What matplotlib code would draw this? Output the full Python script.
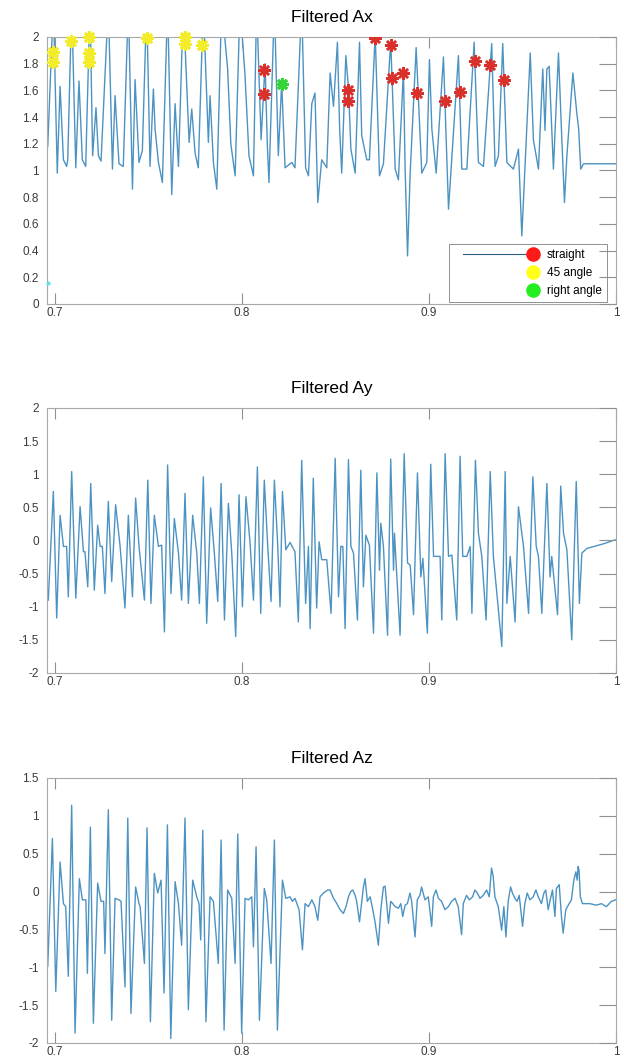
import numpy as np
import matplotlib
matplotlib.use("Agg")
import matplotlib.pyplot as plt
from matplotlib.lines import Line2D
from matplotlib.legend_handler import HandlerBase

plt.rcParams['font.family'] = ['Liberation Sans', 'DejaVu Sans']

# ---- Filtered Ax (peaks above 2 are cut by the axis) ----
ax_t = [0.6961, 0.6991, 0.7012, 0.7027, 0.7045, 0.7062, 0.7068, 0.7089, 0.7111, 0.7128,
        0.7146, 0.7164, 0.7187, 0.7201, 0.7219, 0.7232, 0.7246, 0.7285, 0.7307, 0.7321,
        0.7342, 0.7365, 0.7392, 0.7414, 0.7428, 0.7449, 0.7467, 0.7490, 0.7508, 0.7526,
        0.7535, 0.7553, 0.7574, 0.7602, 0.7624, 0.7642, 0.7660, 0.7686, 0.7717, 0.7731,
        0.7749, 0.7766, 0.7793, 0.7820, 0.7829, 0.7847, 0.7865, 0.7891, 0.7923, 0.7940,
        0.7963, 0.7989, 0.8016, 0.8037, 0.8061, 0.8078, 0.8102, 0.8123, 0.8135, 0.8144,
        0.8173, 0.8194, 0.8212, 0.8230, 0.8266, 0.8283, 0.8319, 0.8340, 0.8355, 0.8373,
        0.8390, 0.8405, 0.8426, 0.8453, 0.8471, 0.8489, 0.8510, 0.8522, 0.8533, 0.8555,
        0.8569, 0.8582, 0.8605, 0.8628, 0.8640, 0.8667, 0.8681, 0.8712, 0.8735, 0.8756,
        0.8795, 0.8819, 0.8836, 0.8863, 0.8872, 0.8885, 0.8899, 0.8931, 0.8961, 0.8988,
        0.9002, 0.9015, 0.9038, 0.9077, 0.9104, 0.9157, 0.9175, 0.9202, 0.9241, 0.9264,
        0.9291, 0.9335, 0.9353, 0.9371, 0.9394, 0.9416, 0.9451, 0.9478, 0.9496, 0.9541,
        0.9558, 0.9585, 0.9608, 0.9620, 0.9630, 0.9642, 0.9665, 0.9692, 0.9710, 0.9724,
        0.9737, 0.9769, 0.9790, 0.9800, 0.9811, 0.9826, 1.0004]
ax_v = [1.18, 2.25, 0.98, 1.63, 1.08, 1.03, 1.08, 2.25, 1.02, 1.67,
        1.08, 1.03, 2.25, 1.11, 1.47, 1.11, 1.07, 2.25, 1.01, 1.56,
        1.05, 1.03, 2.25, 0.86, 1.68, 1.06, 1.15, 2.25, 1.03, 1.61,
        1.31, 1.06, 0.91, 2.25, 0.82, 1.50, 1.03, 2.25, 1.21, 1.46,
        1.13, 1.02, 2.25, 1.21, 1.56, 1.06, 0.86, 2.25, 1.76, 1.20,
        0.96, 2.25, 1.71, 1.11, 0.96, 2.25, 1.23, 1.80, 1.20, 0.91,
        2.25, 1.11, 1.66, 1.02, 1.06, 1.02, 2.25, 1.02, 0.96, 1.50,
        1.58, 0.76, 1.08, 1.02, 1.73, 1.48, 1.96, 1.31, 0.98, 1.86,
        1.62, 1.16, 0.98, 1.96, 1.26, 1.08, 1.08, 2.02, 0.96, 1.05,
        1.97, 1.01, 0.93, 1.75, 1.01, 0.36, 0.98, 1.92, 0.98, 1.06,
        1.83, 1.31, 0.98, 1.85, 0.71, 1.86, 1.01, 1.01, 1.96, 1.06,
        1.03, 1.95, 1.03, 1.11, 1.95, 1.06, 1.01, 1.16, 0.51, 1.88,
        1.23, 1.01, 1.76, 1.30, 1.76, 1.78, 1.01, 1.88, 1.23, 0.76,
        1.11, 1.73, 1.43, 1.31, 1.01, 1.05, 1.05]

straight_t = [0.8118, 0.8118, 0.8569, 0.8569, 0.8712, 0.8795, 0.8801, 0.8863, 0.8938,
              0.9086, 0.9163, 0.9243, 0.9327, 0.9401]
straight_v = [1.75, 1.57, 1.60, 1.52, 1.99, 1.94, 1.69, 1.73, 1.58,
              1.52, 1.59, 1.82, 1.79, 1.68]
angle45_t = [0.6989, 0.6989, 0.7084, 0.7182, 0.7182, 0.7182, 0.7490, 0.7695, 0.7695, 0.7784]
angle45_v = [1.89, 1.81, 1.97, 2.00, 1.88, 1.81, 1.99, 2.00, 1.95, 1.94]
right_t = [0.8212]
right_v = [1.65]
start_t = [0.6960]
start_v = [0.16]

# ---- Filtered Ay ----
ay_t = [0.6964, 0.6991, 0.7009, 0.7027, 0.7045, 0.7062, 0.7071, 0.7089, 0.7111, 0.7134,
        0.7152, 0.7160, 0.7175, 0.7191, 0.7210, 0.7228, 0.7241, 0.7253, 0.7267, 0.7285,
        0.7303, 0.7324, 0.7348, 0.7374, 0.7392, 0.7414, 0.7431, 0.7449, 0.7478, 0.7496,
        0.7513, 0.7531, 0.7553, 0.7570, 0.7585, 0.7602, 0.7620, 0.7638, 0.7660, 0.7677,
        0.7695, 0.7713, 0.7736, 0.7758, 0.7772, 0.7793, 0.7811, 0.7832, 0.7852, 0.7870,
        0.7888, 0.7906, 0.7927, 0.7945, 0.7966, 0.7984, 0.8002, 0.8021, 0.8043, 0.8061,
        0.8082, 0.8100, 0.8119, 0.8137, 0.8155, 0.8173, 0.8191, 0.8203, 0.8216, 0.8234,
        0.8257, 0.8283, 0.8301, 0.8319, 0.8340, 0.8355, 0.8364, 0.8381, 0.8399, 0.8412,
        0.8426, 0.8453, 0.8476, 0.8498, 0.8516, 0.8528, 0.8539, 0.8551, 0.8569, 0.8582,
        0.8596, 0.8617, 0.8635, 0.8649, 0.8662, 0.8681, 0.8703, 0.8721, 0.8735, 0.8742,
        0.8756, 0.8778, 0.8795, 0.8810, 0.8815, 0.8845, 0.8867, 0.8885, 0.8899, 0.8917,
        0.8938, 0.8956, 0.8967, 0.8991, 0.9009, 0.9024, 0.9059, 0.9068, 0.9086, 0.9104,
        0.9122, 0.9148, 0.9166, 0.9180, 0.9202, 0.9220, 0.9229, 0.9248, 0.9264, 0.9282,
        0.9305, 0.9327, 0.9344, 0.9389, 0.9407, 0.9416, 0.9434, 0.9460, 0.9478, 0.9496,
        0.9505, 0.9532, 0.9555, 0.9573, 0.9585, 0.9603, 0.9630, 0.9647, 0.9656, 0.9687,
        0.9704, 0.9719, 0.9737, 0.9763, 0.9787, 0.9804, 0.9817, 0.9844, 0.9933, 0.9995]
ay_v = [-0.90, 0.74, -1.17, 0.38, -0.09, -0.09, -0.85, 1.04, -0.87, 0.51,
        -0.17, -0.17, -0.70, 0.86, -0.75, 0.23, -0.09, -0.09, -0.80, 0.59,
        -0.62, 0.54, -0.09, -1.02, 0.38, -0.85, 0.64, -0.09, -0.90, 0.91,
        -0.95, 0.38, -0.09, -0.07, -1.38, 1.14, -0.80, 0.33, -0.19, -0.90,
        0.71, -0.95, 0.38, -0.19, -0.95, 0.96, -1.25, 0.49, -0.19, -0.92,
        0.86, -1.20, 0.56, -0.19, -1.45, 0.69, -1.00, 0.66, -0.04, -0.90,
        1.11, -1.10, 0.91, -0.07, -0.92, 0.91, -0.09, -1.00, 0.74, -0.14,
        -0.03, -0.17, -1.23, 1.21, -0.95, -0.09, -1.33, 0.94, -1.02, -0.02,
        -0.29, -0.29, -1.10, 1.24, -0.85, -0.09, -0.09, -1.33, 1.22, -0.09,
        -0.19, -1.20, 1.06, -0.70, 0.08, -0.07, -1.40, 1.02, -0.45, 0.26,
        -0.09, -1.43, 1.23, -0.45, 0.11, -1.43, 1.31, -0.34, -0.37, -1.12,
        1.02, -0.55, -0.27, -1.40, 1.15, -0.24, -0.24, -1.20, 1.31, -0.24,
        -0.22, -1.20, 1.27, -0.24, -0.24, -0.09, -1.10, 1.21, 0.11, -0.24,
        -1.20, 1.04, -0.24, -1.60, 1.04, -0.95, -0.24, -1.23, 0.51, 0.11,
        -0.09, -1.10, 0.96, -0.09, -0.24, -1.10, 0.86, -0.55, -0.24, -1.12,
        0.82, 0.11, -0.14, -1.50, 0.89, -0.95, -0.19, -0.12, -0.05, 0.01]

# ---- Filtered Az ----
az_t = [0.6961, 0.6986, 0.7004, 0.7027, 0.7045, 0.7057, 0.7071, 0.7089, 0.7107, 0.7130,
        0.7146, 0.7165, 0.7173, 0.7189, 0.7205, 0.7228, 0.7246, 0.7260, 0.7267, 0.7285,
        0.7303, 0.7321, 0.7342, 0.7353, 0.7374, 0.7389, 0.7406, 0.7431, 0.7449, 0.7455,
        0.7478, 0.7492, 0.7510, 0.7531, 0.7549, 0.7567, 0.7583, 0.7601, 0.7619, 0.7642,
        0.7660, 0.7677, 0.7695, 0.7713, 0.7736, 0.7758, 0.7770, 0.7779, 0.7790, 0.7807,
        0.7829, 0.7847, 0.7873, 0.7888, 0.7904, 0.7923, 0.7945, 0.7963, 0.7977, 0.7998,
        0.8016, 0.8034, 0.8052, 0.8061, 0.8075, 0.8093, 0.8119, 0.8132, 0.8155, 0.8173,
        0.8189, 0.8216, 0.8234, 0.8257, 0.8269, 0.8283, 0.8305, 0.8323, 0.8337, 0.8355,
        0.8373, 0.8390, 0.8405, 0.8417, 0.8435, 0.8458, 0.8471, 0.8489, 0.8507, 0.8524,
        0.8542, 0.8556, 0.8569, 0.8581, 0.8592, 0.8605, 0.8613, 0.8628, 0.8640, 0.8649,
        0.8658, 0.8670, 0.8685, 0.8699, 0.8711, 0.8729, 0.8742, 0.8756, 0.8765, 0.8783,
        0.8795, 0.8806, 0.8818, 0.8836, 0.8849, 0.8859, 0.8872, 0.8884, 0.8898, 0.8907,
        0.8925, 0.8937, 0.8951, 0.8960, 0.8978, 0.8996, 0.9014, 0.9023, 0.9037, 0.9050,
        0.9067, 0.9085, 0.9103, 0.9121, 0.9139, 0.9156, 0.9174, 0.9183, 0.9201, 0.9215,
        0.9233, 0.9245, 0.9258, 0.9272, 0.9290, 0.9308, 0.9322, 0.9334, 0.9343, 0.9352,
        0.9370, 0.9388, 0.9400, 0.9411, 0.9423, 0.9436, 0.9446, 0.9459, 0.9471, 0.9482,
        0.9500, 0.9512, 0.9525, 0.9539, 0.9557, 0.9571, 0.9584, 0.9601, 0.9614, 0.9624,
        0.9637, 0.9646, 0.9660, 0.9673, 0.9681, 0.9696, 0.9708, 0.9717, 0.9731, 0.9749,
        0.9761, 0.9774, 0.9785, 0.9792, 0.9797, 0.9802, 0.9809, 0.9820, 0.9859, 0.9895,
        0.9922, 0.9948, 0.9975, 0.9998]
az_v = [-0.99, 0.70, -1.32, 0.39, -0.16, -0.20, -1.12, 1.14, -1.87, 0.17,
        -0.11, -0.11, -1.08, 0.85, -1.74, 0.11, -0.13, -0.13, -0.82, 1.08,
        -1.70, -0.09, -0.11, -0.13, -1.26, 0.97, -1.61, 0.06, -0.16, -0.20,
        -0.95, 0.84, -1.72, 0.24, -0.02, 0.15, -1.34, 0.88, -1.94, 0.13,
        -0.16, -0.71, 0.97, -1.56, 0.15, -0.07, -0.16, -0.64, 0.81, -1.72,
        -0.07, -0.13, -0.95, 0.68, -1.83, 0.02, -0.09, -0.95, 0.76, -1.87,
        -0.09, -0.11, -0.07, -0.73, 0.59, -1.70, 0.04, -0.11, -0.95, 0.68,
        -1.83, 0.15, -0.09, -0.07, -0.13, -0.09, -0.24, -0.77, -0.16, -0.20,
        -0.11, -0.20, -0.38, -0.07, -0.02, 0.02, 0.02, -0.09, -0.16, -0.24,
        -0.29, -0.20, -0.07, 0.00, 0.02, -0.05, -0.13, -0.40, -0.13, 0.06,
        0.17, -0.13, -0.07, -0.24, -0.40, -0.71, -0.24, 0.06, 0.07, -0.42,
        -0.13, -0.16, -0.20, -0.22, -0.16, -0.33, -0.18, -0.16, -0.02, -0.13,
        -0.60, -0.11, -0.05, 0.06, -0.11, -0.07, -0.46, -0.07, 0.02, -0.09,
        -0.13, -0.24, -0.20, -0.13, -0.09, -0.20, -0.57, -0.16, -0.05, -0.11,
        -0.07, 0.02, -0.02, -0.09, -0.05, 0.02, -0.07, 0.31, 0.20, -0.07,
        -0.20, -0.51, -0.20, -0.60, -0.13, 0.06, -0.02, -0.09, -0.13, -0.05,
        -0.46, -0.16, -0.02, -0.11, -0.07, 0.02, -0.07, -0.16, -0.02, 0.02,
        -0.24, -0.13, 0.02, -0.33, 0.04, 0.09, -0.33, -0.55, -0.24, -0.16,
        -0.11, 0.15, 0.26, 0.15, 0.33, 0.28, -0.07, -0.16, -0.16, -0.18,
        -0.16, -0.20, -0.13, -0.11]

x_ticks = [0.7, 0.8, 0.9, 1.0]
line_color = '#4d93c2'
spine_color = '#a8a8a8'
label_color = '#3a3a3a'


class LineThenDot(HandlerBase):
    # legend sample: optional line on the left, round marker at the right end
    def create_artists(self, legend, orig_handle, xdescent, ydescent,
                       width, height, fontsize, trans):
        y = height / 2 - ydescent
        x1 = width - xdescent - 5
        arts = []
        if orig_handle.get_linestyle() not in ('None', 'none', ''):
            arts.append(Line2D([-xdescent + 6, x1], [y, y], color=orig_handle.get_color(),
                               lw=orig_handle.get_linewidth(), transform=trans))
        arts.append(Line2D([x1], [y], marker='o', ms=orig_handle.get_markersize(),
                           mfc=orig_handle.get_markerfacecolor(), mec='none',
                           linestyle='None', transform=trans))
        return arts


def style_axes(ax, yticks, ylim, title):
    ax.set_xlim(0.6957, 1.0)
    ax.set_ylim(*ylim)
    ax.set_xticks(x_ticks)
    ax.set_xticklabels([f"{v:g}" for v in x_ticks])
    ax.set_yticks(yticks)
    ax.set_yticklabels([f"{v:g}" for v in yticks])
    for s in ax.spines.values():
        s.set_color(spine_color)
        s.set_linewidth(0.8)
    ax.tick_params(axis='x', direction='in', length=8, width=0.8, color='#909090',
                   top=True, labelsize=8.5, labelcolor=label_color, pad=2)
    ax.tick_params(axis='y', direction='in', length=0, left=True, right=False,
                   labelsize=8.5, labelcolor=label_color, pad=6)
    # right side ticks drawn by a twin so they can be longer than the left ones
    ax2 = ax.twinx()
    ax2.set_ylim(*ylim)
    ax2.set_yticks(yticks)
    ax2.tick_params(axis='y', direction='in', length=12, width=0.8, color='#909090',
                    labelright=False)
    for s in ax2.spines.values():
        s.set_visible(False)
    ax.set_title(title, fontsize=12.5, pad=11)


fig = plt.figure(figsize=(6.24, 10.61), dpi=100)

# Ax
ax1 = fig.add_axes([0.0753, 0.7135, 0.912, 0.2517])
ax1.plot(ax_t, ax_v, color=line_color, lw=1.0)
style_axes(ax1, [round(0.2 * k, 1) for k in range(11)], (0, 2), 'Filtered Ax')
ax1.plot(straight_t, straight_v, linestyle='None', marker=(8, 2, 0), ms=9,
         mec='#d9302c', mew=1.8, zorder=3)
ax1.plot(angle45_t, angle45_v, linestyle='None', marker=(8, 2, 0), ms=9,
         mec='#f2ec2a', mew=2.0, zorder=3, clip_on=False)
ax1.plot(right_t, right_v, linestyle='None', marker=(8, 2, 0), ms=9,
         mec='#35d43a', mew=2.0, zorder=3)
ax1.plot(start_t, start_v, linestyle='None', marker='o', ms=3,
         mfc='#5fe0e6', mec='none', zorder=3, clip_on=False)

handles = [Line2D([], [], color='#2e5e80', lw=0.8, marker='o', ms=10.5, mfc='#ff1a1a'),
           Line2D([], [], linestyle='None', marker='o', ms=10.5, mfc='#ffff1a'),
           Line2D([], [], linestyle='None', marker='o', ms=10.5, mfc='#22ee22')]
leg = ax1.legend(handles, ['straight', '45 angle', 'right angle'],
                 handler_map={Line2D: LineThenDot()},
                 loc='lower right', bbox_to_anchor=(0.984, 0.006), fontsize=8.5,
                 handlelength=7.2, handletextpad=0.6, labelspacing=0.5,
                 borderpad=0.45, borderaxespad=0, fancybox=False, framealpha=1)
leg.get_frame().set_edgecolor('#909090')
leg.get_frame().set_linewidth(0.7)

# Ay
ax_y = fig.add_axes([0.0753, 0.3657, 0.912, 0.2498])
ax_y.plot(ay_t, ay_v, color=line_color, lw=1.0)
style_axes(ax_y, [-2, -1.5, -1, -0.5, 0, 0.5, 1, 1.5, 2], (-2, 2), 'Filtered Ay')

# Az
ax_z = fig.add_axes([0.0753, 0.0170, 0.912, 0.2498])
ax_z.plot(az_t, az_v, color=line_color, lw=1.0)
style_axes(ax_z, [-2, -1.5, -1, -0.5, 0, 0.5, 1, 1.5], (-2, 1.5), 'Filtered Az')

fig.savefig('out.png', dpi=100)
